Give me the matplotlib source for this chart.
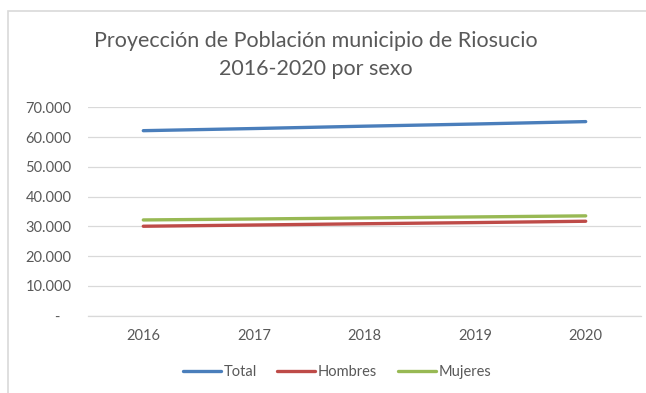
import matplotlib.pyplot as plt
from matplotlib.patches import Rectangle
from matplotlib.ticker import FuncFormatter

years = ["2016", "2017", "2018", "2019", "2020"]
hombres = [30010, 30420, 30850, 31240, 31690]
mujeres = [32130, 32440, 32800, 33140, 33500]
total = [62140, 62860, 63650, 64380, 65190]

plt.rcParams["font.family"] = ["Lato", "DejaVu Sans"]
grey_text = "#595959"
grid_col = "#d9d9d9"

fig = plt.figure(figsize=(6.46, 3.93), dpi=100)
W, H = 646, 393

# chart frame
fig.patches.append(Rectangle((8 / W, -0.05), 1.1, 1 - 11 / H + 0.05,
                             transform=fig.transFigure, fill=False,
                             edgecolor=grid_col, linewidth=1.2))

ax = fig.add_axes([88 / W, 1 - 315.5 / H, (641 - 88) / W, (315.5 - 107.3) / H])
x = range(len(years))
ax.plot(x, total, color="#4a7ebb", lw=2.4, solid_capstyle="round", label="Total")
ax.plot(x, hombres, color="#be4b48", lw=2.4, solid_capstyle="round", label="Hombres")
ax.plot(x, mujeres, color="#98b954", lw=2.4, solid_capstyle="round", label="Mujeres")

ax.set_xlim(-0.5, len(years) - 0.5)
ax.set_ylim(0, 70000)
ax.set_yticks(range(0, 70001, 10000))
ax.yaxis.set_major_formatter(FuncFormatter(
    lambda v, p: "-   " if v == 0 else f"{int(v):,}".replace(",", ".")))
ax.set_xticks(list(x))
ax.set_xticklabels(years)
ax.tick_params(length=0, labelsize=10.5, labelcolor=grey_text)
ax.tick_params(axis="y", pad=12)
ax.tick_params(axis="x", pad=10)
ax.grid(axis="y", color=grid_col, lw=0.9)
ax.set_axisbelow(True)
for side in ["top", "right", "left"]:
    ax.spines[side].set_visible(False)
ax.spines["bottom"].set_color(grid_col)
ax.spines["bottom"].set_linewidth(0.9)

fig.text(316 / W, 1 - 55 / H,
         "Proyección de Población municipio de Riosucio\n2016-2020 por sexo",
         ha="center", va="center", fontsize=15.5, color=grey_text, linespacing=1.45)

fig.legend(loc="center", bbox_to_anchor=(337 / W, 1 - 372 / H), ncol=3,
           frameon=False, fontsize=10.5, labelcolor=grey_text, handlelength=2.6,
           handletextpad=0.2, columnspacing=1.4)

fig.savefig("out.png", dpi=100)
